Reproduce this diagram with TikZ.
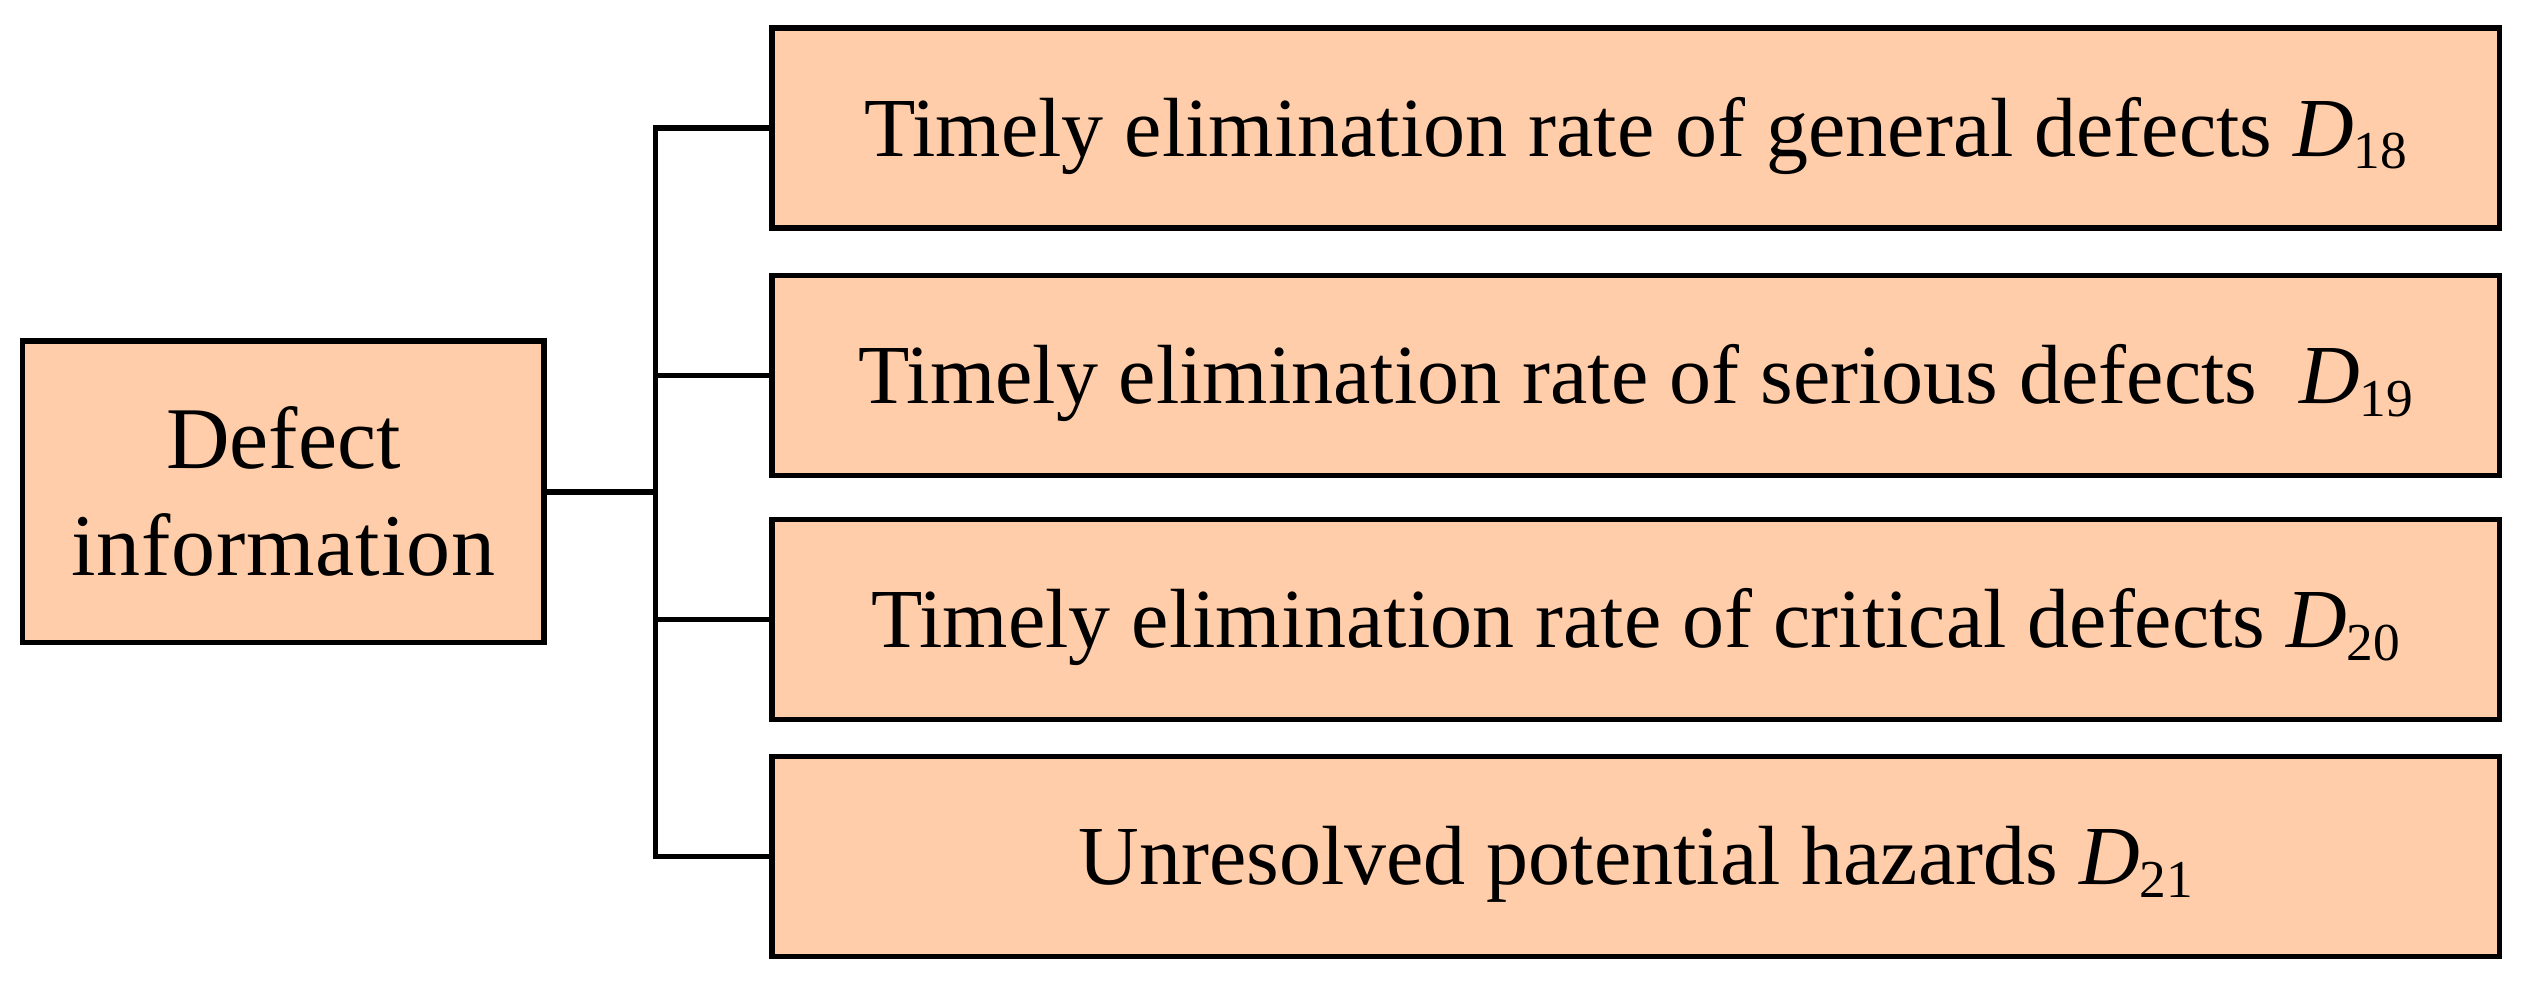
\documentclass[tikz,border=0pt]{standalone}
\usepackage{fontspec}
\setmainfont{Liberation Serif}
\definecolor{peach}{RGB}{255,205,170}
\newcommand\Dsub[1]{\textit{D}\raisebox{-0.15em}{\fontsize{16pt}{16pt}\selectfont #1}}
\begin{document}
\begin{tikzpicture}[x=0.3pt,y=-0.3pt,
  boxstyle/.style={draw=black,fill=peach,line width=1.65pt,rectangle,inner sep=0pt,outer sep=0pt,
    font=\fontsize{25.2pt}{32.1pt}\selectfont},
  itemstyle/.style={boxstyle,minimum width=518.25pt,minimum height=60pt,text height=17pt,text depth=0pt},
  conn/.style={line width=1.65pt,line join=miter}]
\useasboundingbox (0,0) rectangle (2524,986);
\node[boxstyle,minimum width=156.4pt,minimum height=90.45pt,align=center,
  font=\fontsize{26.4pt}{32.1pt}\selectfont] (left) at (283.4,491.75)
  {Defect\\\addfontfeature{LetterSpace=1}information};
\node[itemstyle] (r1) at (1635.75,127.75) {Timely elimination rate of general defects \Dsub{18}};
\node[itemstyle] (r2) at (1635.75,375.5) {Timely elimination rate of serious defects~ \Dsub{19}};
\node[itemstyle] (r3) at (1635.75,619.5) {Timely elimination rate of critical defects \Dsub{20}};
\node[itemstyle] (r4) at (1635.75,856.5) {Unresolved potential hazards \Dsub{21}};
\coordinate (bb) at (655.5,856.5);
\draw[conn] (r1.west) -| (bb) -- (r4.west);
\draw[conn] (r2.west) -- (r2.west -| bb);
\draw[conn] (r3.west) -- (r3.west -| bb);
\draw[conn] (left.east) -- (left.east -| bb);
\end{tikzpicture}
\end{document}
